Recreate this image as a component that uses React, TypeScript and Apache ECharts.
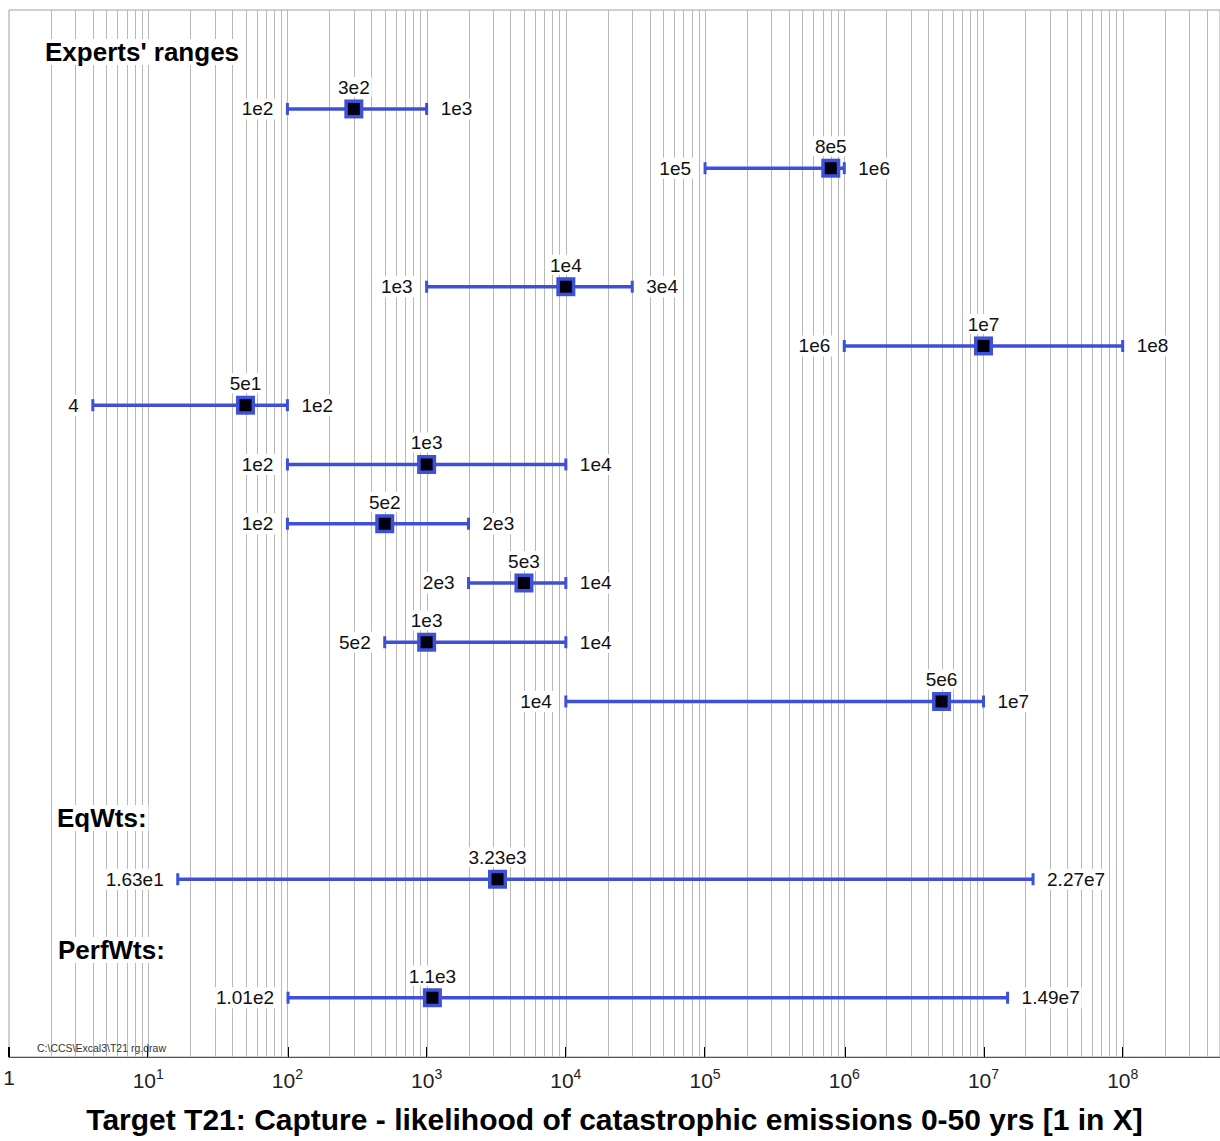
import React, { useEffect, useRef } from "react";
import * as echarts from "echarts";

// ---- data ----
const rowPos = [0, 1, 3, 4, 5, 6, 7, 8, 9, 10, 13, 15];
const lows = [1e2, 1e5, 1e3, 1e6, 4, 1e2, 1e2, 2e3, 5e2, 1e4, 16.3, 101];
const meds = [3e2, 8e5, 1e4, 1e7, 5e1, 1e3, 5e2, 5e3, 1e3, 5e6, 3230, 1100];
const highs = [1e3, 1e6, 3e4, 1e8, 1e2, 1e4, 2e3, 1e4, 1e4, 1e7, 2.27e7, 1.49e7];
const lowLabels = ["1e2", "1e5", "1e3", "1e6", "4", "1e2", "1e2", "2e3", "5e2", "1e4", "1.63e1", "1.01e2"];
const medLabels = ["3e2", "8e5", "1e4", "1e7", "5e1", "1e3", "5e2", "5e3", "1e3", "5e6", "3.23e3", "1.1e3"];
const highLabels = ["1e3", "1e6", "3e4", "1e8", "1e2", "1e4", "2e3", "1e4", "1e4", "1e7", "2.27e7", "1.49e7"];

const X_MIN = 1;
const X_MAX = 5e8;
const gridValues: number[] = [];
for (let k = 0; k <= 8; k++) {
  for (let m = 1; m <= 9; m++) {
    const v = m * Math.pow(10, k);
    if (v > 1 && v < X_MAX) gridValues.push(v);
  }
}

const TITLE = "Target T21: Capture - likelihood of catastrophic emissions 0-50 yrs [1 in X]";
const FONT = "'Liberation Sans', Arial, Helvetica, sans-serif";
const BLUE = "#3d50d6";

export default function App() {
  const ref = useRef<HTMLDivElement>(null);
  useEffect(() => {
    if (!ref.current) return;
    const chart = echarts.init(ref.current, null, { renderer: "svg" });

    const barData = rowPos.map((r, i) => [r, lows[i], meds[i], highs[i]]);
    const headStyle = {
      fontSize: 26,
      fontWeight: "bold",
      fontFamily: FONT,
      fill: "#000",
      backgroundColor: "#fff",
      padding: [0, 2, 0, 2],
    };

    const option: any = {
      animation: false,
      backgroundColor: "#ffffff",
      grid: {
        left: 9,
        right: 0,
        top: 10,
        bottom: 84,
        show: true,
        borderColor: "#a0a0a0",
        borderWidth: 1,
        containLabel: false,
        outerBoundsMode: "none",
      },
      xAxis: {
        type: "log",
        logBase: 10,
        min: X_MIN,
        max: X_MAX,
        splitNumber: 9,
        name: TITLE,
        nameLocation: "middle",
        nameGap: 47,
        nameTextStyle: { fontSize: 30, fontWeight: "bold", color: "#000", fontFamily: FONT },
        axisLine: { show: true, onZero: false, lineStyle: { color: "#555", width: 1 } },
        axisTick: { show: true, inside: true, length: 10, lineStyle: { color: "#000", width: 2 } },
        splitLine: { show: false },
        minorTick: { show: false },
        minorSplitLine: { show: false },
        axisLabel: {
          margin: 10,
          showMaxLabel: false,
          hideOverlap: false,
          formatter: (v: number) => {
            const e = Math.round(Math.log10(v));
            if (Math.abs(v - Math.pow(10, e)) / v > 1e-6) return "";
            if (e === 0) return "{b|1}";
            return "{b|10}{s|" + e + "}";
          },
          rich: {
            b: { fontSize: 21, color: "#222", fontFamily: FONT },
            s: { fontSize: 14, color: "#222", fontFamily: FONT, padding: [0, 0, 12, 0] },
          },
        },
      },
      yAxis: { type: "value", inverse: true, min: -1.67, max: 16, show: false },
      graphic: [
        { type: "text", left: 43, top: 39, z: 10, style: { ...headStyle, text: "Experts' ranges" } },
        { type: "text", left: 55, top: 805, z: 10, style: { ...headStyle, text: "EqWts:" } },
        { type: "text", left: 56, top: 937, z: 10, style: { ...headStyle, text: "PerfWts:" } },
        {
          type: "text",
          left: 37,
          top: 1042,
          z: 10,
          style: { text: "C:\\CCS\\Excal3\\T21 rg.draw", fontSize: 10.5, fontFamily: FONT, fill: "#333" },
        },
      ],
      series: [
        {
          type: "custom",
          z: 1,
          silent: true,
          clip: true,
          data: gridValues.map((v) => [v, 0]),
          encode: { x: 0, y: 1 },
          renderItem: (params: any, api: any) => {
            const cs = params.coordSys;
            const x = Math.round(api.coord([api.value(0), 0])[0]) + 0.5;
            return {
              type: "line",
              shape: { x1: x, y1: cs.y, x2: x, y2: cs.y + cs.height },
              style: { stroke: "#b8b8b8", lineWidth: 1 },
            };
          },
        },
        {
          type: "custom",
          z: 5,
          silent: true,
          clip: false,
          data: barData,
          encode: { x: [1, 2, 3], y: 0 },
          renderItem: (params: any, api: any) => {
            const i = params.dataIndex;
            const row = api.value(0);
            const pL = api.coord([api.value(1), row]);
            const pM = api.coord([api.value(2), row]);
            const pH = api.coord([api.value(3), row]);
            const y = pL[1];
            const textStyle = { fontSize: 19, fontFamily: FONT, fill: "#111" };
            return {
              type: "group",
              children: [
                {
                  type: "line",
                  shape: { x1: pL[0], y1: y, x2: pH[0], y2: y },
                  style: { stroke: BLUE, lineWidth: 3.5 },
                },
                {
                  type: "line",
                  shape: { x1: pL[0], y1: y - 6, x2: pL[0], y2: y + 6 },
                  style: { stroke: BLUE, lineWidth: 3 },
                },
                {
                  type: "line",
                  shape: { x1: pH[0], y1: y - 6, x2: pH[0], y2: y + 6 },
                  style: { stroke: BLUE, lineWidth: 3 },
                },
                {
                  type: "rect",
                  shape: { x: pM[0] - 9.5, y: y - 9.5, width: 19, height: 19 },
                  style: { fill: BLUE },
                },
                {
                  type: "rect",
                  shape: { x: pM[0] - 6, y: y - 6, width: 12, height: 12 },
                  style: { fill: "#000010" },
                },
                {
                  type: "text",
                  x: pL[0] - 12,
                  y: y,
                  style: {
                    ...textStyle,
                    text: lowLabels[i],
                    align: "right",
                    verticalAlign: "middle",
                    backgroundColor: "#fff",
                    padding: [1, 2, 1, 2],
                  },
                },
                {
                  type: "text",
                  x: pH[0] + 12,
                  y: y,
                  style: {
                    ...textStyle,
                    text: highLabels[i],
                    align: "left",
                    verticalAlign: "middle",
                    backgroundColor: "#fff",
                    padding: [1, 2, 1, 2],
                  },
                },
                {
                  type: "text",
                  x: pM[0],
                  y: y - 12,
                  style: {
                    ...textStyle,
                    text: medLabels[i],
                    align: "center",
                    verticalAlign: "bottom",
                    backgroundColor: "#fff",
                    padding: [1, 2, 0, 2],
                  },
                },
              ],
            };
          },
        },
      ],
    };

    chart.setOption(option);
    return () => chart.dispose();
  }, []);

  return (
    <div
      ref={ref}
      style={{ position: "absolute", left: 0, top: 0, width: 1220, height: 1141, background: "#fff" }}
    />
  );
}
